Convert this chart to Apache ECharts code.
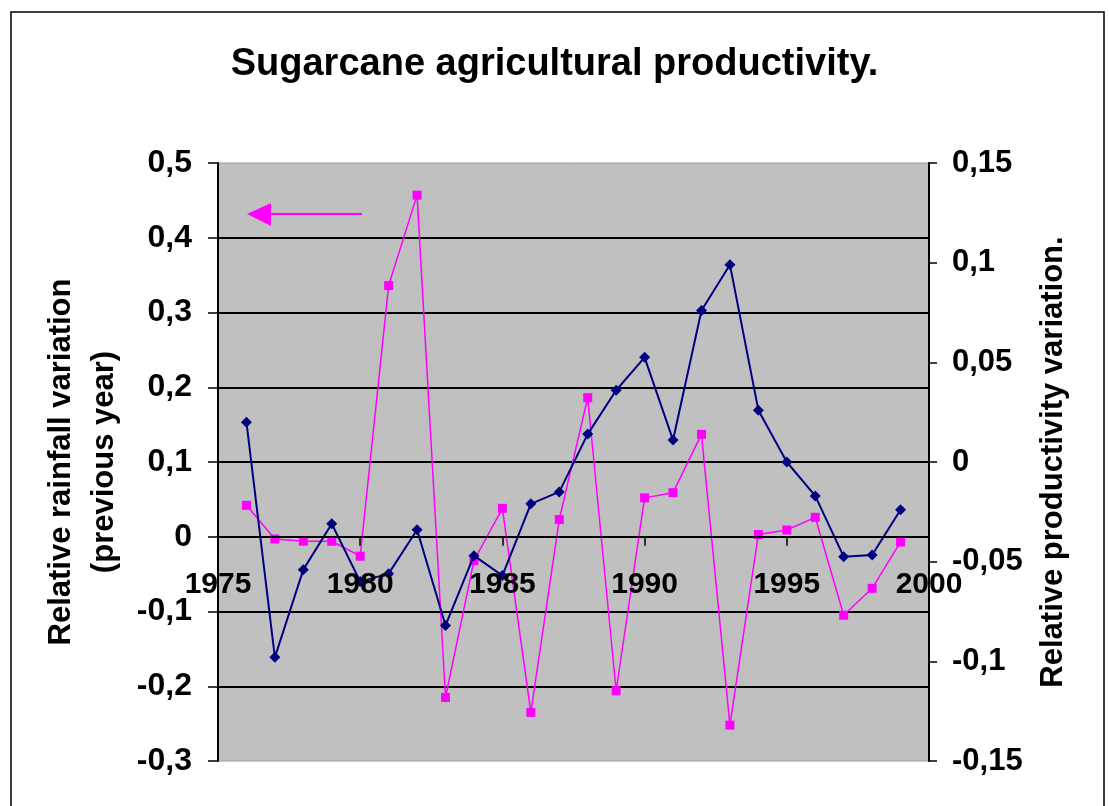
<!DOCTYPE html>
<html>
<head>
<meta charset="utf-8">
<script src="https://cdn.jsdelivr.net/npm/echarts@6/dist/echarts.min.js"></script>
<style>
  html, body { margin: 0; padding: 0; background: #fff; }
  #chart { width: 1109px; height: 806px; }
</style>
</head>
<body>
<div id="chart"></div>
<script>
// years on the x axis
const years = [1976, 1977, 1978, 1979, 1980, 1981, 1982, 1983, 1984, 1985, 1986, 1987,
  1988, 1989, 1990, 1991, 1992, 1993, 1994, 1995, 1996, 1997, 1998, 1999];

// magenta, left axis (relative rainfall variation, previous year)
const rainfall = [0.042, -0.003, -0.006, -0.006, -0.026, 0.336, 0.457, -0.215, -0.032, 0.038,
  -0.235, 0.023, 0.186, -0.206, 0.052, 0.059, 0.137, -0.252, 0.003, 0.009, 0.026, -0.105,
  -0.069, -0.007];

// navy, right axis (relative productivity variation)
const productivity = [0.020, -0.098, -0.054, -0.031, -0.060, -0.056, -0.034, -0.082, -0.047,
  -0.057, -0.021, -0.015, 0.014, 0.036, 0.0525, 0.011, 0.076, 0.099, 0.026, 0.0, -0.017,
  -0.0475, -0.0467, -0.024];

const fmt = (v) => String(Number(v.toFixed(2))).replace(".", ",");
const labelFont = { fontFamily: "Liberation Sans, Arial, sans-serif", fontWeight: "bold", color: "#000" };

// plot box
const gridTop = 163, gridBottom = 45, chartH = 806;
const plotH = chartH - gridTop - gridBottom;
// x axis sits on the 0 of the left axis (-0.3 .. 0.5)
const xOffset = -plotH * (0.3 / 0.8);

const chart = echarts.init(document.getElementById("chart"));
chart.setOption({
  animation: false,
  backgroundColor: "#fff",
  title: {
    text: "Sugarcane agricultural productivity.",
    left: "center",
    top: 41,
    textStyle: Object.assign({ fontSize: 38 }, labelFont),
  },
  grid: {
    left: 218,
    right: 180,
    top: gridTop,
    bottom: gridBottom,
    outerBoundsMode: "none",
    containLabel: false,
    show: true,
    backgroundColor: "#C0C0C0",
    borderColor: "#9a9a9a",
    borderWidth: 1,
  },
  xAxis: {
    type: "value",
    min: 1975,
    max: 2000,
    interval: 5,
    position: "bottom",
    offset: xOffset,
    z: 5,
    axisLine: { onZero: false, lineStyle: { color: "#000", width: 2 } },
    axisTick: { inside: false, length: 9, lineStyle: { color: "#000", width: 1.5 } },
    axisLabel: Object.assign({ fontSize: 30, margin: 33, formatter: (v) => String(v) }, labelFont),
    splitLine: { show: false },
  },
  yAxis: [
    {
      type: "value",
      min: -0.3,
      max: 0.5,
      interval: 0.1,
      name: "Relative rainfall variation\n(previous year)",
      nameLocation: "middle",
      nameGap: 91,
      nameTextStyle: Object.assign({ fontSize: 31, lineHeight: 43 }, labelFont),
      axisLine: { show: true, lineStyle: { color: "#000", width: 2 } },
      axisTick: { show: true, length: 10, lineStyle: { color: "#000", width: 1.5 } },
      axisLabel: Object.assign({ fontSize: 32, margin: 26, formatter: fmt }, labelFont),
      splitLine: {
        show: true,
        showMinLine: false,
        showMaxLine: false,
        lineStyle: { color: "#000", width: 2 },
      },
    },
    {
      type: "value",
      min: -0.15,
      max: 0.15,
      interval: 0.05,
      position: "right",
      name: "Relative productivity variation.",
      nameLocation: "middle",
      nameGap: 109,
      nameTextStyle: Object.assign({ fontSize: 31 }, labelFont),
      axisLine: { show: true, lineStyle: { color: "#000", width: 2 } },
      axisTick: { show: true, length: 8, lineStyle: { color: "#000", width: 1.5 } },
      axisLabel: Object.assign({ fontSize: 31, margin: 23, formatter: fmt }, labelFont),
      splitLine: { show: false },
    },
  ],
  graphic: [
    {
      type: "rect",
      shape: { x: 11, y: 12, width: 1093, height: 820 },
      style: { fill: null, stroke: "#000", lineWidth: 1.5 },
      silent: true,
    },
    {
      type: "line",
      shape: { x1: 262, y1: 214, x2: 362, y2: 214 },
      style: { stroke: "#FF00FF", lineWidth: 2 },
      z: 10,
    },
    {
      type: "polygon",
      shape: { points: [[247, 214], [271, 203], [271, 226]] },
      style: { fill: "#FF00FF" },
      z: 10,
    },
  ],
  series: [
    {
      name: "rainfall",
      type: "line",
      yAxisIndex: 0,
      data: years.map((y, i) => [y, rainfall[i]]),
      symbol: "rect",
      symbolSize: 9,
      itemStyle: { color: "#FF00FF" },
      lineStyle: { color: "#FF00FF", width: 1.5 },
      z: 3,
    },
    {
      name: "productivity",
      type: "line",
      yAxisIndex: 1,
      data: years.map((y, i) => [y, productivity[i]]),
      symbol: "diamond",
      symbolSize: 11,
      itemStyle: { color: "#000080" },
      lineStyle: { color: "#000080", width: 2 },
      z: 4,
    },
  ],
});
</script>
</body>
</html>
